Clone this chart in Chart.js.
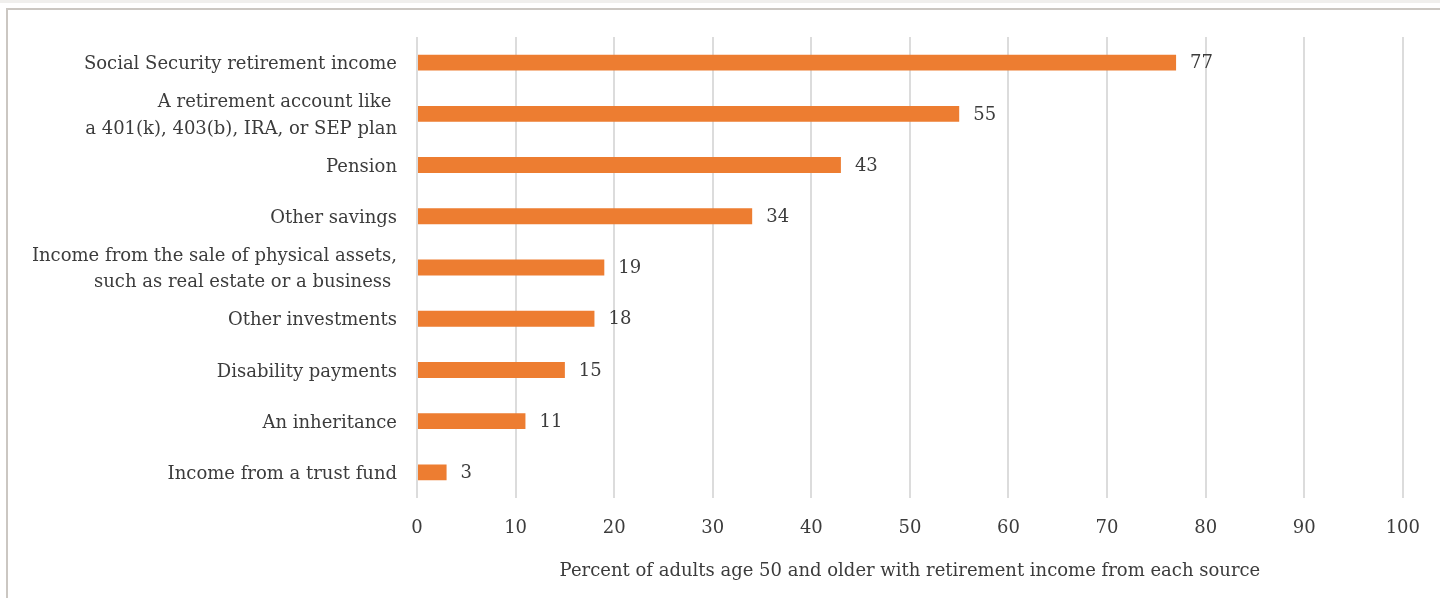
<!DOCTYPE html>
<html>
<head>
<meta charset="utf-8">
<script src="https://cdn.jsdelivr.net/npm/chart.js@4.4.0/dist/chart.umd.min.js"></script>
<style>
  html, body { margin: 0; padding: 0; background: #fff; }
  body { width: 1440px; height: 598px; position: relative; overflow: hidden; }
  #band { position: absolute; left: 0; top: 0; width: 1440px; height: 3px; background: #f0efed; }
  #frame { position: absolute; left: 6px; top: 8px; width: 1440px; height: 600px;
           border-top: 2px solid #cbc7c2; border-left: 2px solid #cbc7c2; }
  #chart { position: absolute; left: 0; top: 0; }
</style>
</head>
<body>
<div id="band"></div>
<div id="frame"></div>
<canvas id="chart" width="1440" height="598"></canvas>
<script>
// categories, top to bottom
const sources = [
    'Social Security retirement income',
    ['A retirement account like ', 'a 401(k), 403(b), IRA, or SEP plan'],
    'Pension',
    'Other savings',
    ['Income from the sale of physical assets,', 'such as real estate or a business '],
    'Other investments',
    'Disability payments',
    'An inheritance',
    'Income from a trust fund'
];
const percents = [77, 55, 43, 34, 19, 18, 15, 11, 3];
const axisTitle = 'Percent of adults age 50 and older with retirement income from each source';

const textColor = '#3c3c3c';
const fontFamily = '"DejaVu Serif", serif';

// draws the value just right of each bar
const valueLabels = {
    id: 'valueLabels',
    afterDatasetsDraw(chart) {
        const ctx = chart.ctx;
        const meta = chart.getDatasetMeta(0);
        ctx.save();
        ctx.fillStyle = textColor;
        ctx.font = '18px ' + fontFamily;
        ctx.textAlign = 'left';
        ctx.textBaseline = 'middle';
        meta.data.forEach((bar, i) => {
            ctx.fillText(String(percents[i]), bar.x + 14, bar.y + 1);
        });
        ctx.restore();
    }
};

new Chart(document.querySelector('#chart').getContext('2d'), {
    type: 'bar',
    data: {
        labels: sources,
        datasets: [{
            data: percents,
            backgroundColor: '#ED7D31',
            borderWidth: 0,
            barPercentage: 0.62,
            categoryPercentage: 0.5
        }]
    },
    options: {
        indexAxis: 'y',
        responsive: false,
        animation: false,
        devicePixelRatio: 1,
        layout: { padding: { top: 37, right: 37, left: 0, bottom: 0 } },
        plugins: {
            legend: { display: false },
            tooltip: { enabled: false }
        },
        scales: {
            x: {
                min: 0,
                max: 100,
                ticks: { stepSize: 10, color: textColor, padding: 20, font: { family: fontFamily, size: 18 } },
                grid: { color: '#dcdcdc', lineWidth: 2, drawTicks: false },
                border: { display: false },
                title: {
                    display: true,
                    text: axisTitle,
                    color: textColor,
                    font: { family: fontFamily, size: 18 },
                    padding: { top: 0, bottom: 16 }
                },
                afterFit(scale) { scale.height = 100; }
            },
            y: {
                ticks: { autoSkip: false, labelOffset: 2, color: textColor, padding: 12, font: { family: fontFamily, size: 18, lineHeight: 1.45 } },
                grid: { display: false },
                border: { display: false },
                afterFit(scale) { scale.width = 417; }
            }
        }
    },
    plugins: [valueLabels]
});
</script>
</body>
</html>
